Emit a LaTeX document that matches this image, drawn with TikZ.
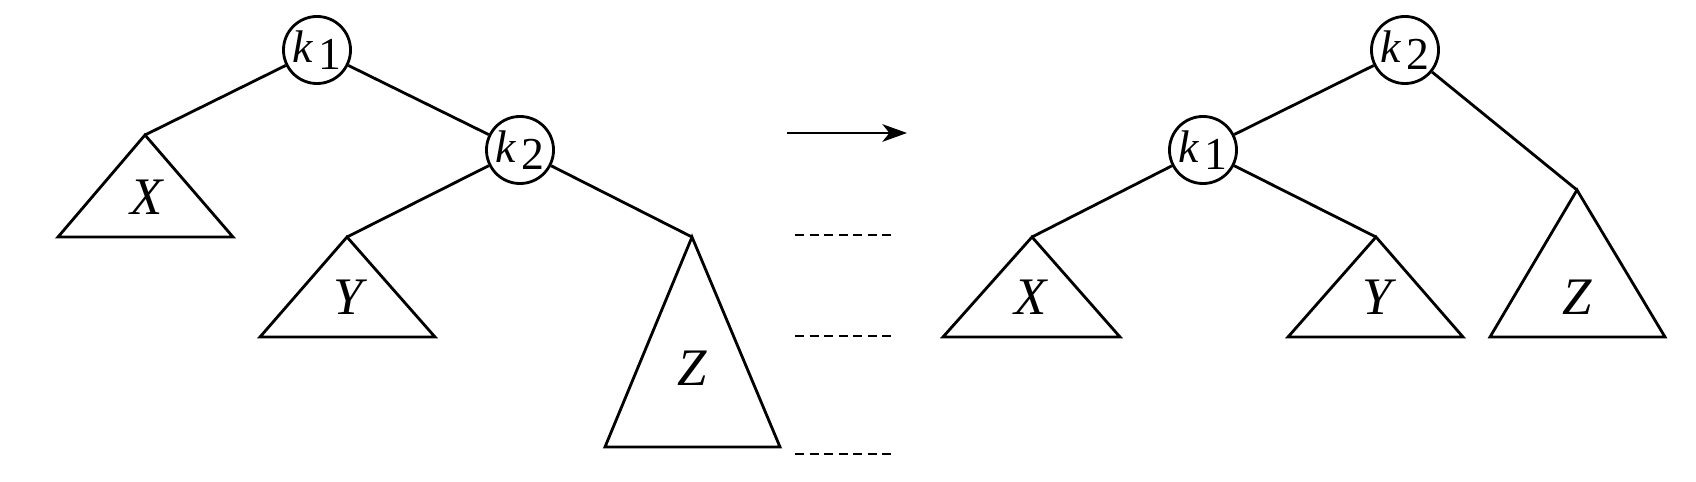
\documentclass[tikz,border=0pt]{standalone}
\usepackage{fontspec}
\setmainfont{Liberation Serif}
\usetikzlibrary{arrows.meta}
\tikzset{
  key/.style={circle,draw,line width=0.8pt,minimum size=0.67cm,inner sep=0pt,font=\fontsize{13}{15}\selectfont},
  tri/.style={draw,line width=0.8pt,line join=miter},
  edge/.style={draw,line width=0.8pt},
  lab/.style={font=\fontsize{15}{17}\selectfont\itshape,inner sep=0pt},
  dotl/.style={line width=0.8pt,dash pattern=on 0.09cm off 0.055cm}
}
\newcommand{\kk}[1]{\makebox[0pt]{\textit{k}\kern0.1em\raisebox{-0.3ex}{#1}}}
\begin{document}
\begin{tikzpicture}[x=0.01cm,y=-0.01cm]
\useasboundingbox (0,0) rectangle (1696,482);
% left tree
\node[key] (lk1) at (317,50) {\kk{1}};
\node[key] (lk2) at (520,150) {\kk{2}};
\coordinate (lxa) at (145,135);
\coordinate (lya) at (347,237);
\coordinate (lza) at (692,237);
\draw[tri] (lxa) -- (58,237) -- (233,237) -- cycle;
\draw[tri] (lya) -- (260,337) -- (435,337) -- cycle;
\draw[tri] (lza) -- (605,447) -- (780,447) -- cycle;
\node[lab] (lx) at (147,197) {X};
\node[lab] (ly) at (348,297) {Y};
\node[lab] (lz) at (692,368) {Z};
\draw[edge] (lk1) -- (lxa);
\draw[edge] (lk1) -- (lk2);
\draw[edge] (lk2) -- (lya);
\draw[edge] (lk2) -- (lza);
% arrow and dashed lines
\coordinate (as) at (787,133);
\coordinate (ae) at (907,133);
\draw[line width=0.8pt,-{Stealth[length=7pt,width=5pt,inset=2pt]}] (as) -- (ae);
\coordinate (d1a) at (795,235); \coordinate (d1b) at (893,235);
\coordinate (d2a) at (795,336); \coordinate (d2b) at (893,336);
\coordinate (d3a) at (795,454); \coordinate (d3b) at (893,454);
\draw[dotl] (d1a) -- (d1b);
\draw[dotl] (d2a) -- (d2b);
\draw[dotl] (d3a) -- (d3b);
% right tree
\node[key] (rk2) at (1405,50) {\kk{2}};
\node[key] (rk1) at (1203,150) {\kk{1}};
\coordinate (rxa) at (1032,237);
\coordinate (rya) at (1376,237);
\coordinate (rza) at (1577,190);
\draw[tri] (rxa) -- (943,337) -- (1120,337) -- cycle;
\draw[tri] (rya) -- (1288,337) -- (1463,337) -- cycle;
\draw[tri] (rza) -- (1490,337) -- (1665,337) -- cycle;
\node[lab] (rx) at (1031,297) {X};
\node[lab] (ry) at (1377,297) {Y};
\node[lab] (rz) at (1577,297) {Z};
\draw[edge] (rk2) -- (rk1);
\draw[edge] (rk2) -- (rza);
\draw[edge] (rk1) -- (rxa);
\draw[edge] (rk1) -- (rya);
\end{tikzpicture}
\end{document}
